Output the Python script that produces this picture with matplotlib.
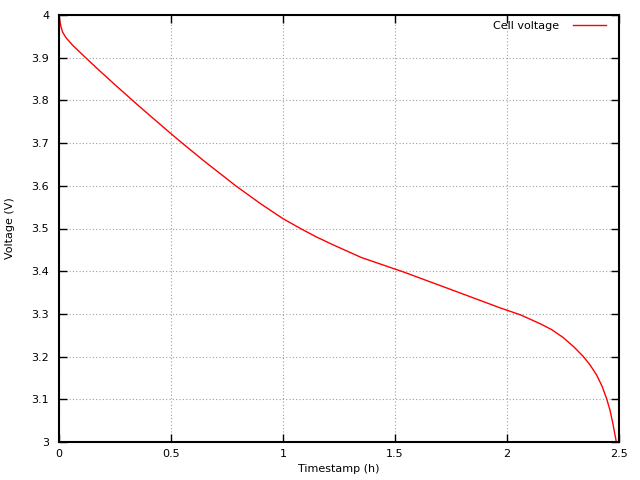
import matplotlib
matplotlib.use('Agg')
import matplotlib.pyplot as plt

# discharge curve
t_h = [0, 0.003, 0.009, 0.016, 0.031, 0.061, 0.113, 0.18, 0.262, 0.365,
       0.5, 0.55, 0.65, 0.789, 0.9, 1.0, 1.078, 1.15, 1.227, 1.35, 1.5,
       1.539, 1.75, 1.97, 2.059, 2.148, 2.2, 2.25, 2.3, 2.341, 2.37, 2.4,
       2.425, 2.445, 2.46, 2.472, 2.482, 2.488]
volts = [4.0, 3.988, 3.972, 3.96, 3.947, 3.929, 3.903, 3.87, 3.831, 3.783,
         3.722, 3.7, 3.657, 3.6, 3.558, 3.523, 3.5, 3.48, 3.461, 3.432, 3.405,
         3.398, 3.357, 3.314, 3.298, 3.277, 3.263, 3.245, 3.222, 3.2, 3.181, 3.157,
         3.13, 3.101, 3.074, 3.045, 3.017, 3.0]
xticks = [0, 0.5, 1, 1.5, 2, 2.5]
yticks = [3, 3.1, 3.2, 3.3, 3.4, 3.5, 3.6, 3.7, 3.8, 3.9, 4]

fig = plt.figure(figsize=(6.4, 4.8), dpi=100)
ax = fig.add_axes([59 / 640, 1 - 442 / 480, 560 / 640, 427 / 480])

ax.plot(t_h, volts, color='#ff0000', lw=1, label='Cell voltage')

ax.set_xlim(0, 2.5)
ax.set_ylim(3, 4)
ax.set_xticks(xticks)
ax.set_xticklabels(['0', '0.5', '1', '1.5', '2', '2.5'])
ax.set_yticks(yticks)
ax.set_yticklabels(['3', '3.1', '3.2', '3.3', '3.4', '3.5', '3.6', '3.7', '3.8', '3.9', '4'])
ax.grid(True, color='#a0a0a0', linestyle=(0, (1, 2)), lw=0.8)
ax.tick_params(direction='in', length=6, width=1, top=True, right=True,
               labelsize=8, pad=7)
ax.tick_params(axis='x', pad=5)
for s in ax.spines.values():
    s.set_linewidth(1.5)

ax.set_xlabel('Timestamp (h)', fontsize=8, labelpad=4)
ax.set_ylabel('Voltage (V)', fontsize=8, labelpad=12)

ax.legend(loc='upper right', frameon=False, markerfirst=False, fontsize=8,
          handlelength=3.0, handletextpad=1.2, borderaxespad=0.3,
          bbox_to_anchor=(1 - 5 / 560, 1 + 2 / 427))

fig.savefig('out.png', dpi=100)
